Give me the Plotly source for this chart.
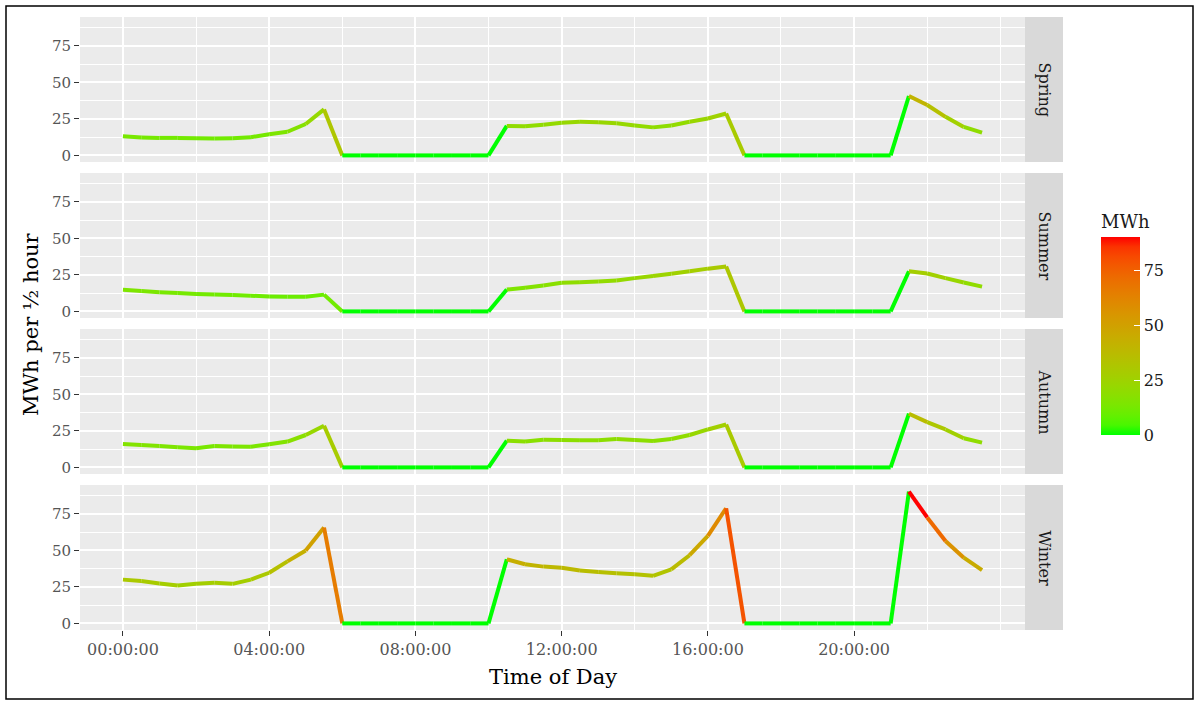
import plotly.graph_objects as go
from plotly.subplots import make_subplots

# ---------------- data ----------------
times = ["00:00:00", "00:30:00", "01:00:00", "01:30:00", "02:00:00", "02:30:00",
         "03:00:00", "03:30:00", "04:00:00", "04:30:00", "05:00:00", "05:30:00",
         "06:00:00", "06:30:00", "07:00:00", "07:30:00", "08:00:00", "08:30:00",
         "09:00:00", "09:30:00", "10:00:00", "10:30:00", "11:00:00", "11:30:00",
         "12:00:00", "12:30:00", "13:00:00", "13:30:00", "14:00:00", "14:30:00",
         "15:00:00", "15:30:00", "16:00:00", "16:30:00", "17:00:00", "17:30:00",
         "18:00:00", "18:30:00", "19:00:00", "19:30:00", "20:00:00", "20:30:00",
         "21:00:00", "21:30:00", "22:00:00", "22:30:00", "23:00:00", "23:30:00"]

seasons = ["Spring", "Summer", "Autumn", "Winter"]

spring = [13.1, 12.3, 12.0, 12.0, 11.8, 11.5, 11.8, 12.5, 14.5, 16.2, 21.5, 31.5,
          0, 0, 0, 0, 0, 0, 0, 0, 0,
          20.2, 20.0, 21.0, 22.3, 23.0, 22.8, 22.0, 20.5, 19.2, 20.5, 23.0, 25.3, 28.7,
          0, 0, 0, 0, 0, 0, 0, 0, 0,
          40.7, 34.5, 26.4, 19.5, 15.6]

summer = [14.8, 14.0, 13.2, 12.6, 12.0, 11.6, 11.3, 10.8, 10.2, 10.1, 10.0, 11.5,
          0, 0, 0, 0, 0, 0, 0, 0, 0,
          15.0, 16.2, 17.8, 19.6, 20.0, 20.5, 21.2, 22.8, 24.2, 25.8, 27.5, 29.3, 30.8,
          0, 0, 0, 0, 0, 0, 0, 0, 0,
          27.5, 26.0, 22.8, 19.8, 17.0]

autumn = [16.0, 15.4, 14.7, 13.8, 13.2, 14.6, 14.3, 14.2, 15.8, 17.7, 22.2, 28.5,
          0, 0, 0, 0, 0, 0, 0, 0, 0,
          18.3, 17.8, 19.0, 18.8, 18.6, 18.6, 19.5, 18.8, 18.1, 19.5, 22.2, 26.0, 29.4,
          0, 0, 0, 0, 0, 0, 0, 0, 0,
          36.8, 31.0, 26.0, 20.0, 17.0]

winter = [30.0, 29.0, 27.4, 26.0, 27.1, 27.8, 27.1, 30.0, 34.7, 42.5, 50.0, 65.7,
          0, 0, 0, 0, 0, 0, 0, 0, 0,
          43.9, 40.5, 38.9, 38.2, 36.3, 35.2, 34.3, 33.6, 32.6, 37.0, 46.7, 60.0, 78.9,
          0, 0, 0, 0, 0, 0, 0, 0, 0,
          90.3, 72.6, 56.5, 45.0, 36.5]

series = [spring, summer, autumn, winter]

x_tick_hours = [0, 4, 8, 12, 16, 20]
x_tick_labels = ["00:00:00", "04:00:00", "08:00:00", "12:00:00", "16:00:00", "20:00:00"]
y_ticks = [0, 25, 50, 75]
cbar_ticks = [0, 25, 50, 75]

# ---------------- helpers ----------------
def to_hours(t):
    h, m, s = t.split(":")
    return int(h) + int(m) / 60 + int(s) / 3600

hours = [to_hours(t) for t in times]


def _lin(c):
    c = c / 255
    return ((c + 0.055) / 1.055) ** 2.4 if c > 0.04045 else c / 12.92


def _gam(c):
    c = 1.055 * c ** (1 / 2.4) - 0.055 if c > 0.0031308 else 12.92 * c
    return max(0, min(255, round(c * 255)))


WP = (0.95047, 1.0, 1.08883)


def rgb2lab(rgb):
    r, g, b = [_lin(v) for v in rgb]
    X = 0.4124564 * r + 0.3575761 * g + 0.1804375 * b
    Y = 0.2126729 * r + 0.7151522 * g + 0.0721750 * b
    Z = 0.0193339 * r + 0.1191920 * g + 0.9503041 * b
    def f(t):
        return t ** (1 / 3) if t > 216 / 24389 else (24389 / 27 * t + 16) / 116
    fx, fy, fz = f(X / WP[0]), f(Y / WP[1]), f(Z / WP[2])
    return (116 * fy - 16, 500 * (fx - fy), 200 * (fy - fz))


def lab2rgb(lab):
    L, a, b = lab
    fy = (L + 16) / 116
    fx = fy + a / 500
    fz = fy - b / 200
    def finv(t):
        return t ** 3 if t ** 3 > 216 / 24389 else (116 * t - 16) / (24389 / 27)
    X, Y, Z = finv(fx) * WP[0], finv(fy) * WP[1], finv(fz) * WP[2]
    r = 3.2404542 * X - 1.5371385 * Y - 0.4985314 * Z
    g = -0.9692660 * X + 1.8760108 * Y + 0.0415560 * Z
    bb = 0.0556434 * X - 0.2040259 * Y + 1.0572252 * Z
    r, g, bb = [min(1, max(0, v)) for v in (r, g, bb)]
    return (_gam(r), _gam(g), _gam(bb))


LOW = rgb2lab((0, 255, 0))
HIGH = rgb2lab((255, 0, 0))


def grad(t):
    t = max(0.0, min(1.0, t))
    lab = tuple(LOW[i] + (HIGH[i] - LOW[i]) * t for i in range(3))
    r, g, b = lab2rgb(lab)
    return f"rgb({r},{g},{b})"


vmin = 0.0
vmax = max(max(s) for s in series)
colorscale = [[i / 20, grad(i / 20)] for i in range(21)]

# ---------------- figure ----------------
W, H = 1200, 704
ML, MR, MT, MB = 80, 175, 17, 74
PW, PH = W - ML - MR, H - MT - MB
gap = 11 / PH

fig = make_subplots(rows=4, cols=1, shared_xaxes=True, vertical_spacing=gap)

for r, vals in enumerate(series, start=1):
    for i in range(len(vals) - 1):
        fig.add_trace(go.Scatter(
            x=[hours[i], hours[i + 1]], y=[vals[i], vals[i + 1]],
            mode="lines",
            line=dict(color=grad((vals[i] - vmin) / (vmax - vmin)), width=4),
            showlegend=False, hoverinfo="skip"), row=r, col=1)


def px_x(p):
    return (p - ML) / PW


def px_y(p):
    return (H - MB - p) / PH


# dummy trace for colour bar
fig.add_trace(go.Scatter(
    x=[hours[0], hours[0]], y=[vmin, vmax], mode="markers",
    marker=dict(size=0.1, opacity=0, color=[vmin, vmax], cmin=vmin, cmax=vmax,
                colorscale=colorscale, showscale=True,
                colorbar=dict(
                    title=dict(text="MWh", side="top",
                               font=dict(family="DejaVu Serif", size=18, color="#1a1a1a")),
                    x=px_x(1101), xanchor="left", xpad=0,
                    y=px_y(323), yanchor="middle", ypad=0,
                    len=224, lenmode="pixels", thickness=39, thicknessmode="pixels",
                    outlinewidth=0, tickvals=cbar_ticks, ticks="inside",
                    tickcolor="white", ticklen=6, tickwidth=1,
                    tickfont=dict(family="DejaVu Serif", size=16, color="#1a1a1a"))),
    showlegend=False, hoverinfo="skip"), row=4, col=1)

xrange = [-1.175, 24.675]
yrange = [-0.05 * vmax, 1.05 * vmax]

for r in range(1, 5):
    fig.update_xaxes(row=r, col=1, range=xrange, tickvals=x_tick_hours,
                     ticktext=x_tick_labels, showticklabels=(r == 4),
                     ticks="outside" if r == 4 else "", ticklen=5, tickwidth=1.2,
                     tickcolor="#333333", showgrid=True, gridcolor="white",
                     gridwidth=1.6, zeroline=False, showline=False,
                     minor=dict(tickvals=[2, 6, 10, 14, 18, 22, 24],
                                showgrid=True, gridcolor="white", gridwidth=0.7),
                     tickfont=dict(family="DejaVu Serif", size=16, color="#555555"))
    fig.update_yaxes(row=r, col=1, range=yrange, tickvals=y_ticks,
                     ticks="outside", ticklen=5, tickwidth=1.2, tickcolor="#333333",
                     showgrid=True, gridcolor="white", gridwidth=1.6,
                     zeroline=False, showline=False,
                     minor=dict(tickvals=[12.5, 37.5, 62.5, 87.5],
                                showgrid=True, gridcolor="white", gridwidth=0.7),
                     tickfont=dict(family="DejaVu Serif", size=15, color="#555555"))

shapes = []
annotations = []
for r, name in enumerate(seasons, start=1):
    ax = fig.layout[f"yaxis{'' if r == 1 else r}"]
    d0, d1 = ax.domain
    shapes.append(dict(type="rect", xref="paper", yref="paper", x0=1.0, x1=px_x(1063),
                       y0=d0, y1=d1, fillcolor="#d9d9d9", line=dict(width=0), layer="below"))
    annotations.append(dict(text=name, xref="paper", yref="paper",
                            x=(1.0 + px_x(1063)) / 2, y=(d0 + d1) / 2, showarrow=False,
                            textangle=90, xanchor="center", yanchor="middle",
                            font=dict(family="DejaVu Serif", size=16, color="#1a1a1a")))

annotations.append(dict(text="MWh per ½ hour", xref="paper", yref="paper",
                        x=px_x(31), y=px_y(324), showarrow=False, textangle=-90,
                        xanchor="center", yanchor="middle",
                        font=dict(family="DejaVu Serif", size=21, color="black")))
annotations.append(dict(text="Time of Day", xref="paper", yref="paper",
                        x=0.5, y=px_y(677), showarrow=False,
                        xanchor="center", yanchor="middle",
                        font=dict(family="DejaVu Serif", size=21, color="black")))

# outer border
shapes.append(dict(type="rect", xref="paper", yref="paper",
                   x0=px_x(6), x1=px_x(1193), y0=px_y(699), y1=px_y(6),
                   line=dict(color="black", width=1.5), fillcolor="rgba(0,0,0,0)"))

fig.update_layout(
    width=W, height=H,
    margin=dict(l=ML, r=MR, t=MT, b=MB),
    paper_bgcolor="white", plot_bgcolor="#ebebeb",
    shapes=shapes, annotations=annotations,
    showlegend=False,
    font=dict(family="DejaVu Serif"),
)

fig.write_html("out.html", config={"displayModeBar": False},
               post_script="document.body.style.margin='0';document.body.style.overflow='hidden';")
